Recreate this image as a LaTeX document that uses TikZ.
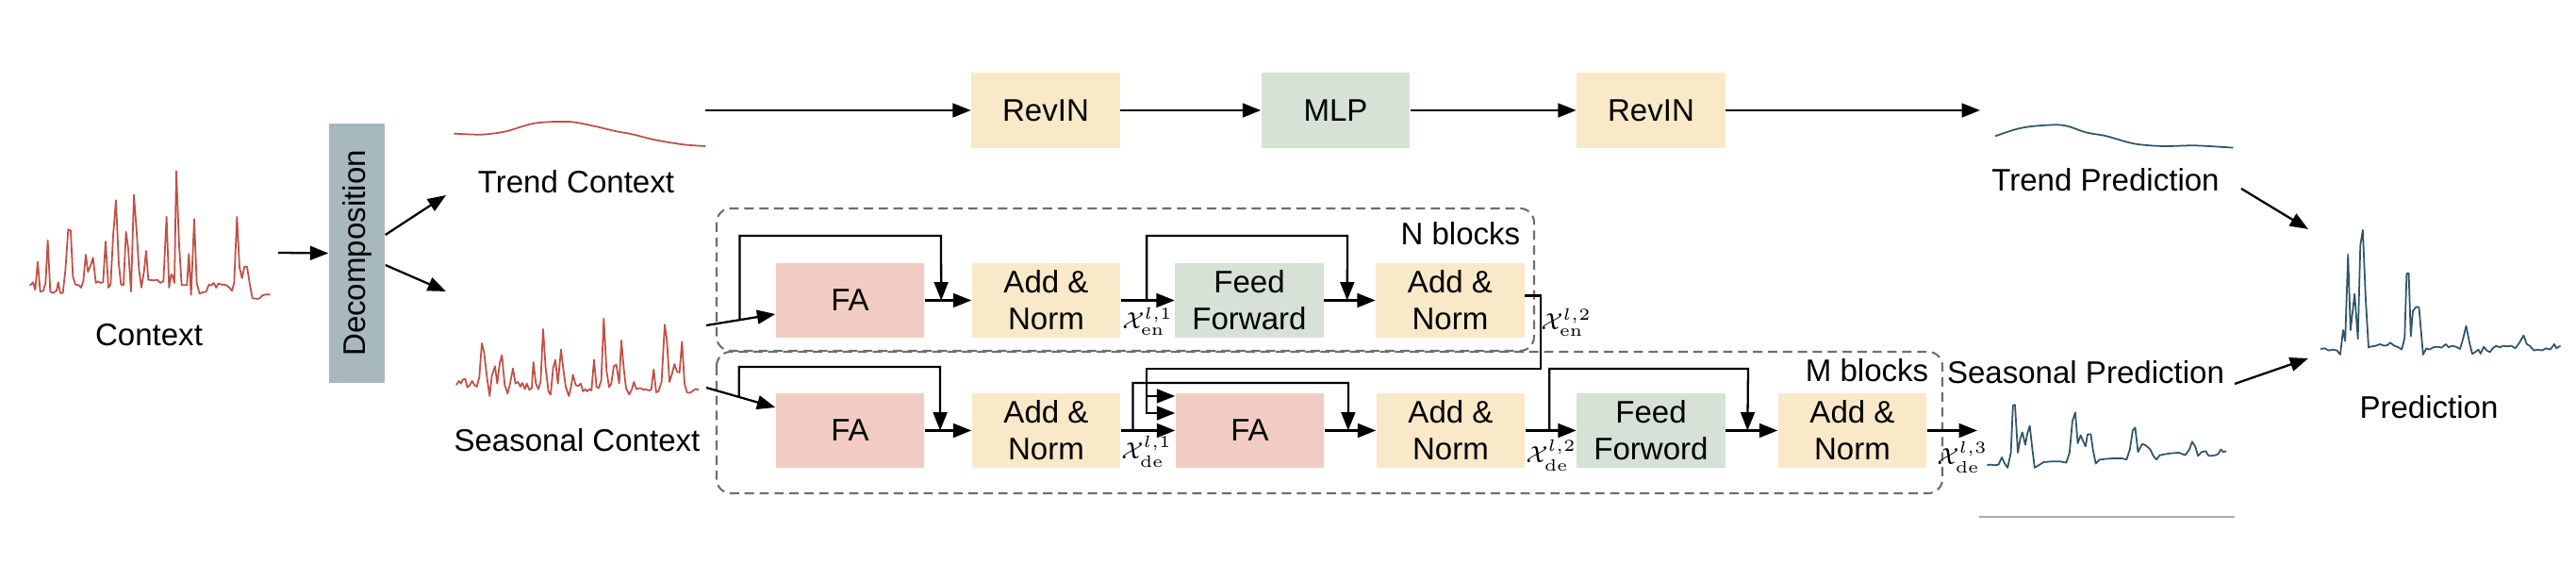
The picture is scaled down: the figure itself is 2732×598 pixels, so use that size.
\documentclass[tikz,border=0pt]{standalone}
\usepackage[no-math]{fontspec}
\setmainfont{Liberation Sans}
\usetikzlibrary{arrows.meta,calc}
\definecolor{ctxred}{RGB}{192,80,70}
\definecolor{predblue}{RGB}{47,85,105}
\definecolor{decgray}{RGB}{168,184,191}
\definecolor{fapink}{RGB}{242,204,194}
\definecolor{normyel}{RGB}{249,233,201}
\definecolor{ffgreen}{RGB}{213,226,213}
\definecolor{dashgray}{RGB}{110,110,110}
\definecolor{linegray}{RGB}{170,170,170}
\begin{document}
\begin{tikzpicture}[x=0.01cm,y=-0.01cm,
  font=\fontsize{9.4}{11.2}\selectfont,
  blk/.style={rectangle, minimum width=1.57cm, minimum height=0.79cm, inner sep=0pt, align=center},
  fa/.style={blk, fill=fapink},
  an/.style={blk, fill=normyel},
  ff/.style={blk, fill=ffgreen},
  arr/.style={-{Triangle[length=5.5pt,width=4.2pt]}, line width=0.65pt},
  grp/.style={draw=dashgray, dash pattern=on 2.8pt off 1.7pt, line width=0.6pt, rounded corners=0.15cm},
  sig/.style={line width=0.5pt, line join=round},
  lbl/.style={inner sep=0pt},
  mlbl/.style={inner sep=0pt, font=\fontsize{6.7}{7.5}\selectfont},
]
\useasboundingbox (0,0) rectangle (2732,598);

% ---------- signals ----------
\begin{scope}[shift={(0,100)}, xscale=0.3333, yscale=0.3333]
\draw[sig, ctxred] plot coordinates {(95,608) (105,598) (112,622) (120,533) (128,628) (138,625) (145,600) (152,465) (160,628) (170,632) (180,625) (185,598) (192,632) (200,632) (208,560) (217,430) (225,433) (232,580) (240,605) (250,607) (258,615) (265,595) (273,510) (280,565) (290,540) (296,520) (305,600) (312,595) (320,600) (328,598) (336,468) (345,615) (352,605) (360,450) (369,337) (378,540) (385,605) (393,607) (401,438) (408,490) (417,628) (426,320) (435,440) (442,555) (450,615) (458,565) (465,498) (472,590) (490,592) (500,590) (510,600) (520,595) (530,390) (538,615) (545,572) (550,580) (555,600) (561,245) (570,480) (578,607) (595,607) (601,508) (608,638) (618,397) (626,600) (635,634) (645,630) (656,628) (665,605) (672,608) (680,600) (688,615) (695,602) (705,605) (720,607) (730,615) (738,625) (745,600) (754,390) (762,550) (770,585) (778,548) (786,548) (795,605) (803,648) (812,650) (825,650) (835,640) (845,637) (860,637)};
\end{scope}

\begin{scope}[shift={(440,290)}, xscale=0.3333, yscale=0.3333]
\draw[sig, ctxred] plot coordinates {(132,355) (140,342) (147,350) (152,338) (160,335) (167,362) (175,355) (182,342) (190,355) (197,360) (205,330) (213,222) (220,250) (230,335) (238,390) (245,325) (255,295) (262,350) (270,285) (277,260) (286,355) (295,382) (303,350) (312,302) (320,350) (328,345) (336,360) (342,348) (350,368) (356,350) (364,370) (372,365) (377,282) (385,350) (393,368) (400,345) (408,177) (416,300) (425,375) (432,385) (440,300) (447,275) (455,350) (465,242) (473,310) (480,360) (490,390) (497,360) (503,322) (512,355) (520,358) (528,350) (535,375) (542,368) (548,375) (555,368) (562,372) (570,275) (578,360) (585,365) (593,340) (601,143) (610,310) (618,362) (625,350) (633,295) (641,290) (650,350) (657,213) (665,305) (672,365) (682,385) (690,370) (697,345) (705,368) (712,365) (720,365) (727,370) (735,368) (745,372) (752,370) (760,305) (768,378) (775,375) (785,345) (795,163) (802,212) (810,345) (818,320) (826,288) (834,312) (842,315) (850,217) (858,350) (866,378) (875,380) (885,373) (893,367) (903,370)};
\end{scope}

\begin{scope}[shift={(460,80)}, xscale=0.5102, yscale=0.3333]
\draw[sig, ctxred] plot[smooth] coordinates {(42,185) (100,188) (150,178) (210,152) (280,147) (330,160) (380,178) (410,186) (460,205) (520,220) (565,225)};
\end{scope}

\begin{scope}[shift={(2050,100)}, xscale=0.435, yscale=0.3333]
\draw[sig, predblue] plot[smooth] coordinates {(152,133) (200,112) (240,102) (300,97) (330,102) (375,122) (420,132) (490,157) (560,165) (640,163) (732,170)};
\draw[sig, predblue] plot coordinates {(945,810) (955,808) (965,815) (975,812) (985,815) (993,828) (1000,750) (1005,785) (1012,510) (1018,750) (1028,635) (1036,778) (1042,480) (1048,432) (1055,650) (1062,805) (1070,802) (1080,800) (1090,795) (1100,800) (1108,798) (1115,790) (1125,800) (1135,805) (1143,812) (1150,775) (1155,570) (1160,570) (1165,770) (1170,690) (1178,676) (1185,678) (1195,828) (1203,808) (1210,812) (1220,805) (1230,803) (1240,806) (1250,795) (1258,805) (1265,800) (1275,803) (1285,810) (1292,780) (1300,737) (1308,790) (1315,826) (1322,820) (1330,812) (1335,825) (1343,803) (1350,815) (1358,820) (1365,808) (1373,800) (1382,805) (1390,800) (1400,802) (1410,800) (1420,808) (1430,790) (1440,767) (1448,795) (1455,800) (1465,815) (1475,812) (1485,815) (1495,808) (1505,812) (1515,795) (1520,808) (1530,800)};
\draw[sig, predblue] plot coordinates {(132,1180) (140,1178) (150,1180) (160,1178) (168,1155) (175,1175) (182,1188) (190,1140) (195,990) (200,988) (207,1140) (213,1095) (218,1075) (225,1115) (230,1080) (236,1055) (242,1125) (248,1188) (258,1180) (270,1170) (290,1168) (310,1168) (325,1172) (333,1140) (340,1040) (347,1012) (353,1110) (360,1085) (365,1100) (372,1120) (377,1082) (385,1082) (390,1130) (397,1175) (405,1163) (420,1160) (440,1158) (460,1158) (472,1162) (480,1130) (487,1070) (493,1060) (500,1138) (510,1112) (520,1118) (530,1130) (537,1150) (545,1162) (553,1148) (565,1145) (580,1142) (600,1140) (615,1148) (625,1130) (632,1105) (640,1122) (646,1150) (655,1138) (665,1135) (672,1150) (680,1150) (688,1148) (695,1145) (702,1130) (708,1138) (715,1135)};
\end{scope}
\draw[linegray, line width=0.4pt] (2099,548) -- (2370,548);

% ---------- text labels ----------
\node[lbl] (ctxlab) at (158,355) {Context};
\node[lbl] (trendlab) at (611,193) {Trend Context};
\node[lbl] (seaslab) at (612,467) {Seasonal Context};
\node[lbl] (tpredlab) at (2233,191) {Trend Prediction};
\node[lbl] (spredlab) at (2212,395) {Seasonal Prediction};
\node[lbl] (predlab) at (2576,432) {Prediction};

% ---------- blocks ----------
\node[blk, fill=decgray, rotate=90, minimum width=2.75cm, minimum height=0.59cm] (decomp) at (378.5,268.5) {Decomposition};

\node[an] (rev1) at (1109,117) {RevIN};
\node[ff] (mlp) at (1416.5,117) {MLP};
\node[an] (rev2) at (1751,117) {RevIN};

\node[fa] (fae) at (901.5,318.5) {FA};
\node[an] (ane1) at (1109.5,318.5) {Add \&\\Norm};
\node[ff] (ffe) at (1325,318.5) {Feed\\Forward};
\node[an] (ane2) at (1538,318.5) {Add \&\\Norm};

\node[fa] (fad1) at (901.5,456.5) {FA};
\node[an] (and1) at (1109.5,456.5) {Add \&\\Norm};
\node[fa] (fad2) at (1325.5,456.5) {FA};
\node[an] (and2) at (1538.5,456.5) {Add \&\\Norm};
\node[ff] (ffd) at (1751,456.5) {Feed\\Forword};
\node[an] (and3) at (1964.5,456.5) {Add \&\\Norm};

% ---------- groups ----------
\draw[grp] (760,221) rectangle (1627,372);
\draw[grp] (760,373) rectangle (2060,523);
\node[lbl, anchor=east] (nlab) at (1613,248) {N blocks};
\node[lbl, anchor=east] (mlab) at (2046,393) {M blocks};

% ---------- math labels ----------
\node[mlbl] (xe1) at (1217,341) {$\mathcal{X}^{l,1}_{\mathrm{en}}$};
\node[mlbl] (xe2) at (1661,342) {$\mathcal{X}^{l,2}_{\mathrm{en}}$};
\node[mlbl] (xd1) at (1216,479) {$\mathcal{X}^{l,1}_{\mathrm{de}}$};
\node[mlbl] (xd2) at (1645,483) {$\mathcal{X}^{l,2}_{\mathrm{de}}$};
\node[mlbl] (xd3) at (2081,485) {$\mathcal{X}^{l,3}_{\mathrm{de}}$};

% ---------- coordinates ----------
\coordinate (ctxout) at (295,268);
\coordinate (trendin) at (473,207);
\coordinate (seasin) at (473,309);
\coordinate (trendout) at (748,117);
\coordinate (tpredin) at (2100,117);
\coordinate (sEnc) at (749,345);
\coordinate (sDec) at (749,411);
\coordinate (feIn) at ([yshift=-0.145cm]fae.west);
\coordinate (fdIn) at ([yshift=0.245cm]fad1.west);
\coordinate (outd) at (2097,456.5);
\coordinate (tpout) at (2377,200);
\coordinate (spout) at (2370,407);
\coordinate (predinA) at (2448,243);
\coordinate (predinB) at (2448,380);

% ---------- connectors ----------
\draw[arr] (ctxout) -- (decomp.north);
\draw[arr] ([yshift=0.195cm]decomp.south) -- (trendin);
\draw[arr] ([yshift=-0.125cm]decomp.south) -- (seasin);

\draw[arr] (trendout) -- (rev1);
\draw[arr] (rev1) -- (mlp);
\draw[arr] (mlp) -- (rev2);
\draw[arr] (rev2) -- (tpredin);

% encoder
\draw[arr] (sEnc) -- (feIn);
\coordinate (r1s) at ($(sEnc)!0.486!(feIn)$);
\coordinate (r1e) at ($(fae.east)!0.353!(ane1.west)$);
\coordinate (r1t) at (998,250);
\draw[arr] (r1s) |- (r1t) -- (r1e);
\draw[arr] (fae) -- (ane1);
\draw[arr] (ane1) -- (ffe);
\coordinate (r2s) at ($(ane1.east)!0.48!(ffe.west)$);
\coordinate (r2e) at ($(ffe.east)!0.45!(ane2.west)$);
\coordinate (r2t) at (1429,250);
\draw[arr] (r2s) |- (r2t) -- (r2e);
\draw[arr] (ffe) -- (ane2);

% encoder to decoder
\coordinate (eo1) at (1634,391);
\coordinate (eo2) at (1216,391);
\coordinate (kin) at ([yshift=0.365cm]fad2.west);
\coordinate (vin) at ([yshift=0.185cm]fad2.west);
\draw[arr] ([yshift=0.05cm]ane2.east) -| (eo1) -- (eo2) |- (vin);
\draw[arr] (kin -| eo2) -- (kin);

% decoder
\draw[arr] (sDec) -- (fdIn);
\coordinate (r3s) at ($(sDec)!0.473!(fdIn)$);
\coordinate (r3e) at ($(fad1.east)!0.33!(and1.west)$);
\coordinate (r3t) at (997,389);
\draw[arr] (r3s) |- (r3t) -- (r3e);
\draw[arr] (fad1) -- (and1);
\draw[arr] (and1) -- (fad2);
\coordinate (r4s) at ($(and1.east)!0.22!(fad2.west)$);
\coordinate (r4e) at ($(fad2.east)!0.46!(and2.west)$);
\coordinate (r4t) at (1430,406);
\draw[arr] (r4s) |- (r4t) -- (r4e);
\draw[arr] (fad2) -- (and2);
\draw[arr] (and2) -- (ffd);
\coordinate (r5s) at ($(and2.east)!0.47!(ffd.west)$);
\coordinate (r5e) at ($(ffd.east)!0.42!(and3.west)$);
\coordinate (r5t) at (1854,391);
\draw[arr] (r5s) |- (r5t) -- (r5e);
\draw[arr] (ffd) -- (and3);
\draw[arr] (and3) -- (outd);

% outputs
\draw[arr] (tpout) -- (predinA);
\draw[arr] (spout) -- (predinB);
\end{tikzpicture}
\end{document}
